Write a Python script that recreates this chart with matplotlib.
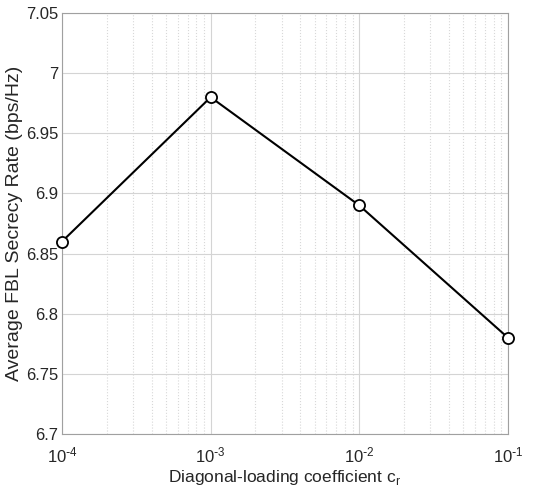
import numpy as np
import matplotlib.pyplot as plt

plt.rcParams['font.family'] = ['Liberation Sans', 'DejaVu Sans']

# data
coef = [1e-4, 1e-3, 1e-2, 1e-1]
rate = [6.86, 6.98, 6.89, 6.78]
yticks = [6.7, 6.75, 6.8, 6.85, 6.9, 6.95, 7.0, 7.05]
ylabels = ['6.7', '6.75', '6.8', '6.85', '6.9', '6.95', '7', '7.05']
xlabels = [r'$\mathregular{10^{\text{-}4}}$', r'$\mathregular{10^{\text{-}3}}$',
           r'$\mathregular{10^{\text{-}2}}$', r'$\mathregular{10^{\text{-}1}}$']

fig = plt.figure(figsize=(5.5, 4.95), dpi=100)
ax = fig.add_axes([62 / 550, 1 - 434 / 495, (508 - 62) / 550, (434 - 13) / 495])

ax.plot(coef, rate, color='k', linewidth=1.5, marker='o', markersize=8,
        markerfacecolor='white', markeredgecolor='k', markeredgewidth=1.3,
        zorder=5, clip_on=False)

ax.set_xscale('log')
ax.set_xlim(1e-4, 1e-1)
ax.set_ylim(6.7, 7.05)
ax.set_xticks(coef)
ax.set_xticklabels(xlabels)
ax.set_yticks(yticks)
ax.set_yticklabels(ylabels)

ax.grid(True, which='major', color='#d4d4d4', linewidth=0.8)
ax.grid(True, which='minor', axis='x', color='#d8d8d8', linestyle=':', linewidth=0.8)
ax.set_axisbelow(True)

ax.tick_params(which='both', length=0, labelsize=12, colors='#262626')
ax.tick_params(axis='x', pad=8)
ax.tick_params(axis='y', pad=2.5, labelsize=12)
for s in ax.spines.values():
    s.set_color('#a0a0a0')
    s.set_linewidth(0.8)

ax.set_xlabel('Diagonal-loading coefficient c$_\\mathregular{r}$', fontsize=12.5,
              color='#262626', labelpad=2)
ax.set_ylabel('Average FBL Secrecy Rate (bps/Hz)', fontsize=14, color='#262626')
ax.yaxis.set_label_coords(-0.088, 0.5)

fig.savefig('out.png', dpi=100)
